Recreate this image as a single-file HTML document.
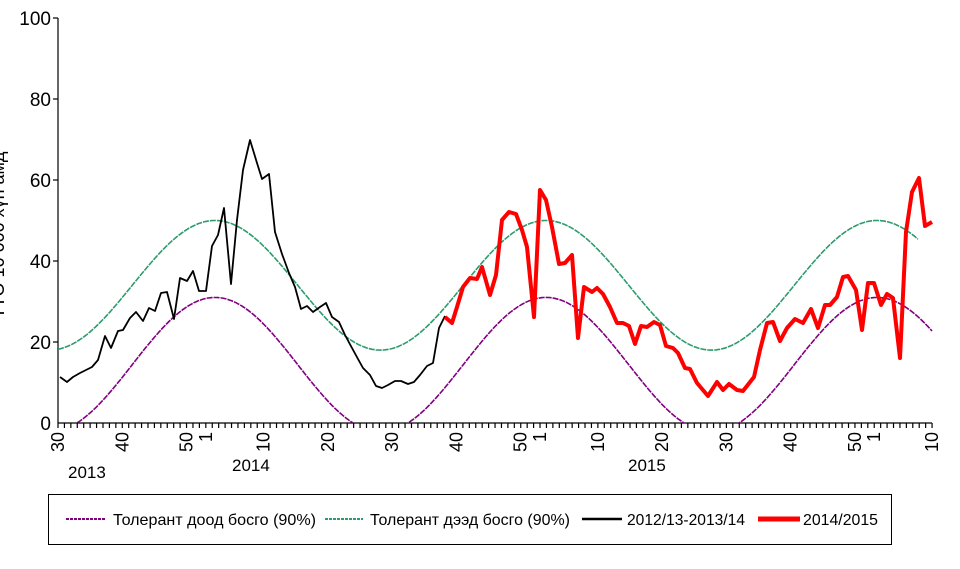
<!DOCTYPE html>
<html><head><meta charset="utf-8"><style>
body{margin:0;background:#fff}
svg{display:block;font-family:"Liberation Sans",sans-serif}
</style></head><body>
<svg id="s" width="960" height="569" viewBox="0 0 960 569" xmlns="http://www.w3.org/2000/svg">
<defs><clipPath id="c"><rect x="58" y="0" width="900" height="423"/></clipPath></defs>
<text transform="translate(4,235) rotate(-90)" font-size="18" text-anchor="middle">ТТӨ 10 000 хүн амд</text>
<g font-size="19" text-anchor="end">
<text x="51" y="25">100</text><text x="51" y="106">80</text><text x="51" y="187">60</text><text x="51" y="268">40</text><text x="51" y="349">20</text><text x="51" y="430">0</text>
</g>
<g id="ax" stroke="#000" stroke-width="1.2" fill="none">
<line x1="58" y1="18" x2="58" y2="423"/><line x1="58" y1="423" x2="932" y2="423"/>
<line x1="53" y1="18" x2="58" y2="18"/><line x1="53" y1="99" x2="58" y2="99"/><line x1="53" y1="180" x2="58" y2="180"/><line x1="53" y1="261" x2="58" y2="261"/><line x1="53" y1="342" x2="58" y2="342"/>
</g>
<g id="xl" font-size="18"></g>
<g font-size="17"><text x="68" y="478">2013</text><text x="232" y="471">2014</text><text x="628" y="471">2015</text></g>
<g clip-path="url(#c)">
<polyline id="g" fill="none" stroke="#2e9b6c" stroke-width="1.6" stroke-dasharray="6 1"/>
<polyline id="p" fill="none" stroke="#800080" stroke-width="1.6" stroke-dasharray="6 1"/>
</g>
<polyline fill="none" stroke="#000" stroke-width="1.8" stroke-linejoin="round" points="60,377 67,382 73,377 80,373 92,367 98,360 105,336 111,348 118,331 123,330 130,318 136,312 143,321 149,308 155,311 161,293 167,292 174,319 180,278 187,281 193,271 199,291 206,291 212,246 218,235 224,208 231,284 237,220 243,170 250,140 257,163 262,179 269,174 275,232 282,254 289,273 295,287 301,309 307,306 313,312 320,307 326,303 332,317 339,322 345,335 352,348 358,359 363,368 370,375 376,386 382,388 388,385 395,381 401,381 408,384 414,382 420,375 427,366 433,363 439,328 445,316"/>
<polyline fill="none" stroke="#ff0000" stroke-width="4" stroke-linejoin="round" points="445,317 452,323 457,307 463,287 470,278 477,279 482,267 490,295 496,275 502,220 509,212 516,214 522,230 527,247 534,317 540,190 546,200 552,227 559,264 565,263 572,255 578,338 584,287 592,292 597,288 603,294 610,307 617,323 623,323 629,326 635,344 641,326 647,327 654,322 660,325 666,346 673,348 678,353 685,368 690,369 697,383 708,396 717,382 723,390 729,384 737,390 743,391 754,377 760,350 767,323 773,322 780,341 787,328 795,319 803,323 811,309 818,328 825,305 830,305 837,297 843,277 848,276 856,290 862,330 868,283 874,283 881,305 887,294 893,298 900,358 906,232 912,192 919,178 925,226 932,222"/>
<rect x="48.5" y="494.5" width="843" height="50" fill="none" stroke="#000" stroke-width="1"/>
<g stroke-width="2"><line x1="66" y1="519" x2="106" y2="519" stroke="#800080" stroke-dasharray="3 1"/><line x1="325" y1="519" x2="363" y2="519" stroke="#2e9b6c" stroke-dasharray="3 1"/><line x1="582" y1="519" x2="622" y2="519" stroke="#000" stroke-width="2.5"/><line x1="758" y1="519" x2="800" y2="519" stroke="#f00" stroke-width="5"/></g>
<g font-size="16"><text x="113" y="525" textLength="203" lengthAdjust="spacingAndGlyphs">Толерант доод босго (90%)</text><text x="370" y="525" textLength="200" lengthAdjust="spacingAndGlyphs">Толерант дээд босго (90%)</text><text x="627" y="525" textLength="118" lengthAdjust="spacingAndGlyphs">2012/13-2013/14</text><text x="803" y="525" textLength="75" lengthAdjust="spacingAndGlyphs">2014/2015</text></g>
</svg>
<script>
var NS="http://www.w3.org/2000/svg",d=6.427,ax=document.getElementById('ax'),xl=document.getElementById('xl');
for(var i=0;i<=136;i++){var x=58+i*d,l=document.createElementNS(NS,'line');l.setAttribute('x1',x);l.setAttribute('x2',x);l.setAttribute('y1',423);l.setAttribute('y2',428);ax.appendChild(l);}
var labs=[[0,30],[10,40],[20,50],[23,1],[32,10],[42,20],[52,30],[62,40],[72,50],[75,1],[84,10],[94,20],[104,30],[114,40],[124,50],[127,1],[136,10]];
labs.forEach(function(a){var x=58+a[0]*d+6,t=document.createElementNS(NS,'text');t.setAttribute('transform','translate('+x+',432) rotate(-90)');t.setAttribute('text-anchor','end');t.textContent=a[1];xl.appendChild(t);});
function curve(id,c,a,x1){var p=[];for(var x=58;x<=x1;x+=2){var v=c+a*Math.cos(2*Math.PI*(x-215)/331);p.push(x+','+(423-v*4.05).toFixed(1));}document.getElementById(id).setAttribute('points',p.join(' '));}
curve('g',34,16,919);curve('p',14.4,16.6,932);
</script>
</body></html>
